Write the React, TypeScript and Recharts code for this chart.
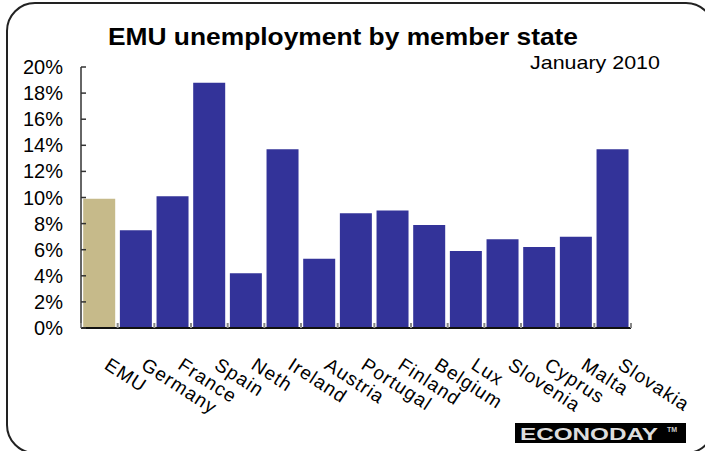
import React from 'react'
import { BarChart, Bar, XAxis, YAxis, Cell } from 'recharts'

const countries = [
  'EMU', 'Germany', 'France', 'Spain', 'Neth', 'Ireland', 'Austria', 'Portugal',
  'Finland', 'Belgium', 'Lux', 'Slovenia', 'Cyprus', 'Malta', 'Slovakia',
]
const rates = [9.9, 7.5, 10.1, 18.8, 4.2, 13.7, 5.3, 8.8, 9.0, 7.9, 5.9, 6.8, 6.2, 7.0, 13.7]
const yTicks = [0, 2, 4, 6, 8, 10, 12, 14, 16, 18, 20]

const data = countries.map((name, i) => ({ name, rate: rates[i] }))

const FONT = 'Arial, "Liberation Sans", sans-serif'
const BLUE = '#333399'
const TAN = '#C6BA8A'

const XTick = (props: any) => {
  const { x, y, payload, index } = props
  const half = payload && payload.offset ? payload.offset : 18.3
  const tx = x + 4
  const ty = y + 40
  return (
    <g>
      {index === 0 && (
        <line x1={x - half} x2={x - half} y1={y} y2={y - 5} stroke="#888" strokeWidth={2} />
      )}
      <line x1={x + half} x2={x + half} y1={y} y2={y - 5} stroke="#888" strokeWidth={2} />
      <text
        x={tx}
        y={ty}
        transform={`rotate(33, ${tx}, ${ty})`}
        textAnchor="start"
        fontFamily={FONT}
        fontSize={19}
        letterSpacing={1.1}
        fill="#000"
      >
        {payload.value}
      </text>
    </g>
  )
}

const YTick = (props: any) => {
  const { x, y, payload } = props
  return (
    <g>
      <line x1={x} x2={x + 5} y1={y} y2={y} stroke="#333" strokeWidth={1.5} />
      <text
        x={x - 18}
        y={y}
        dy={7}
        textAnchor="end"
        fontFamily={FONT}
        fontSize={20}
        fill="#000"
      >
        {`${payload.value}%`}
      </text>
    </g>
  )
}

export default function App() {
  return (
    <div style={{ position: 'absolute', left: 0, top: 0, width: 705, height: 451, background: '#fff', overflow: 'hidden' }}>
      <BarChart
        width={705}
        height={451}
        data={data}
        margin={{ top: 67, right: 74, bottom: 93, left: 21 }}
        barCategoryGap="6%"
      >
        <XAxis
          dataKey="name"
          height={30}
          interval={0}
          tickLine={false}
          tickSize={0}
          tickMargin={0}
          axisLine={{ stroke: '#111', strokeWidth: 2 }}
          tick={<XTick />}
        />
        <YAxis
          width={60}
          domain={[0, 20]}
          ticks={yTicks}
          interval={0}
          tickLine={false}
          tickSize={0}
          tickMargin={0}
          axisLine={{ stroke: '#666', strokeWidth: 2 }}
          tick={<YTick />}
        />
        <Bar dataKey="rate" isAnimationActive={false}>
          {data.map((d, i) => (
            <Cell key={`cell-${i}`} fill={i === 0 ? TAN : BLUE} />
          ))}
        </Bar>
      </BarChart>
      <svg width={705} height={451} style={{ position: 'absolute', left: 0, top: 0, pointerEvents: 'none' }}>
        <rect x={7} y={3} width={707} height={450} rx={28} ry={28} fill="none" stroke="#222" strokeWidth={2} />
        <text x={108} y={45} fontFamily={FONT} fontWeight="bold" fontSize={24} textLength={470} lengthAdjust="spacingAndGlyphs" fill="#000">
          EMU unemployment by member state
        </text>
        <text x={530} y={69} fontFamily={FONT} fontSize={19} textLength={130} lengthAdjust="spacingAndGlyphs" fill="#000">
          January 2010
        </text>
        <rect x={515} y={423} width={171} height={20} fill="#000" />
        <text x={520} y={440} fontFamily={FONT} fontWeight="bold" fontSize={16} textLength={138} lengthAdjust="spacingAndGlyphs" fill="#ddd">
          ECONODAY
        </text>
        <text x={667} y={432} fontFamily={FONT} fontWeight="bold" fontSize={7} fill="#ccc">
          TM
        </text>
      </svg>
    </div>
  )
}
